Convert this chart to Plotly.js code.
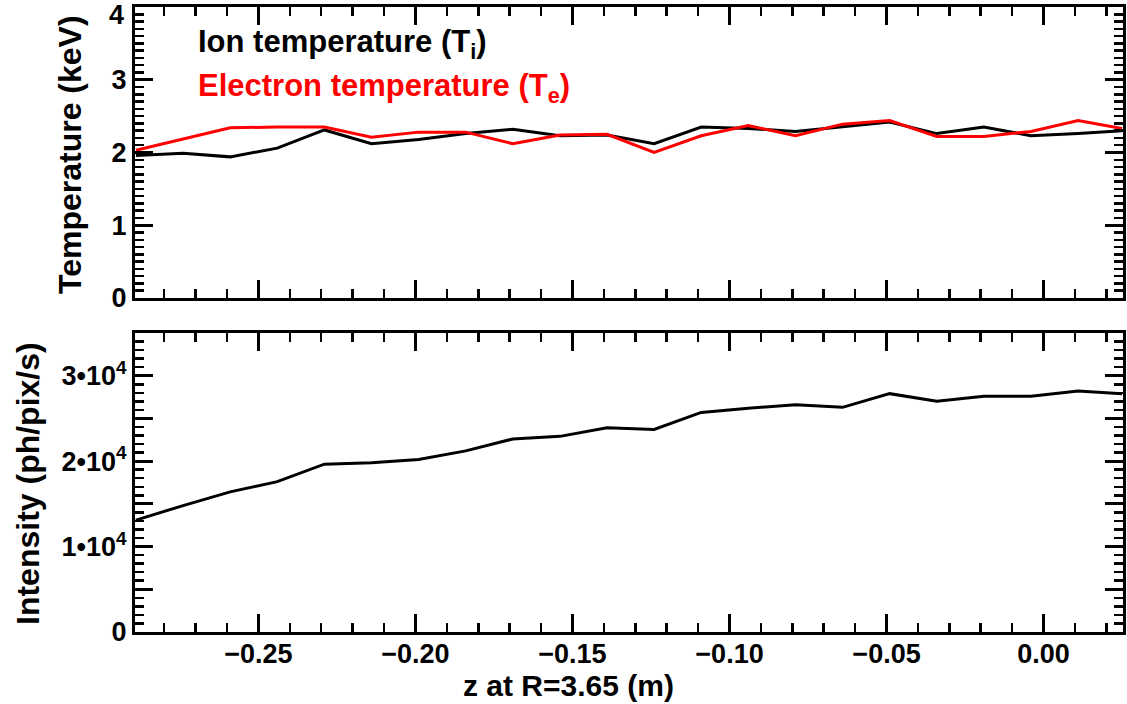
<!DOCTYPE html>
<html>
<head>
<meta charset="utf-8">
<script src="https://cdn.plot.ly/plotly-3.0.1.min.js"></script>
<style>html,body{margin:0;padding:0;background:#fff;}#chart{width:1127px;height:704px;}</style>
</head>
<body>
<div id="chart"></div>
<script>
// z positions (m) at R=3.65
const z = [-0.289, -0.274, -0.259, -0.244, -0.229, -0.214, -0.199, -0.184, -0.169, -0.154, -0.139,
           -0.124, -0.109, -0.094, -0.079, -0.064, -0.049, -0.034, -0.019, -0.004, 0.011, 0.025];
// Ion temperature (keV)
const ionTemp = [1.96, 1.99, 1.94, 2.06, 2.31, 2.12, 2.18, 2.26, 2.32, 2.23, 2.24,
                 2.12, 2.35, 2.33, 2.29, 2.36, 2.42, 2.26, 2.35, 2.23, 2.26, 2.30];
// Electron temperature (keV)
const elecTemp = [2.03, 2.18, 2.34, 2.35, 2.35, 2.21, 2.28, 2.28, 2.12, 2.24, 2.25,
                  2.00, 2.23, 2.37, 2.23, 2.39, 2.44, 2.22, 2.22, 2.29, 2.44, 2.33];
// Intensity (ph/pix/s)
const intensity = [13100, 14800, 16400, 17600, 19650, 19800, 20200, 21200, 22600, 22900, 23900,
                   23700, 25700, 26200, 26600, 26300, 27900, 27000, 27600, 27600, 28200, 27900];

const intTickVals = [0, 5000, 10000, 15000, 20000, 25000, 30000, 35000];
const intTickText = ['0', '', '1•10<sup>4</sup>', '', '2•10<sup>4</sup>', '', '3•10<sup>4</sup>', ''];
const tempTickVals = [0, 1, 2, 3, 4];
const tempTickText = ['0', '1', '2', '3', '4'];

const ionLabel = 'Ion temperature (T<sub>i</sub>)';
const elecLabel = 'Electron temperature (T<sub>e</sub>)';
const xTitle = 'z at R=3.65 (m)';
const tempTitle = 'Temperature (keV)';
const intTitle = 'Intensity (ph/pix/s)';

const FONT = 'Liberation Sans, Arial, Helvetica, sans-serif';
const xrange = [-0.2893, 0.0253];
const TICKSIZE = 27, TITLESIZE = 31, XTITLESIZE = 30, YTITLESIZE = 32;

const traces = [
  {x: z, y: ionTemp, xaxis: 'x2', yaxis: 'y2', mode: 'lines', line: {color: '#000', width: 3}, showlegend: false},
  {x: z, y: elecTemp, xaxis: 'x2', yaxis: 'y2', mode: 'lines', line: {color: '#ff0000', width: 3}, showlegend: false},
  {x: z, y: intensity, xaxis: 'x', yaxis: 'y', mode: 'lines', line: {color: '#000', width: 3}, showlegend: false}
];

const common = {
  showline: true, linewidth: 3, linecolor: '#000', mirror: 'allticks',
  ticks: 'inside', ticklen: 18, tickwidth: 3, tickcolor: '#000',
  showgrid: false, zeroline: false,
  tickfont: {family: FONT, size: TICKSIZE, color: '#000', weight: 700}
};
const xTitleFont = {family: FONT, size: XTITLESIZE, color: '#000', weight: 700};
const yTitleFont = {family: FONT, size: YTITLESIZE, color: '#000', weight: 700};

// the top label of the temperature axis sits just below the frame corner, as in the source
const tempLabelVals = tempTickVals.slice(0, -1);
const tempLabelText = tempTickText.slice(0, -1);

const layout = {
  width: 1127, height: 704,
  margin: {l: 135, r: 4, t: 7, b: 72},
  paper_bgcolor: '#fff', plot_bgcolor: '#fff',
  font: {family: FONT, size: TICKSIZE, color: '#000', weight: 700},
  xaxis: Object.assign({}, common, {
    anchor: 'y', range: xrange, tickmode: 'linear', tick0: 0, dtick: 0.05, tickformat: '.2f',
    ticklabelstandoff: -4,
    minor: {tickmode: 'linear', tick0: 0, dtick: 0.01, ticks: 'inside', ticklen: 9, tickwidth: 2.5, tickcolor: '#000'}
  }),
  xaxis2: Object.assign({}, common, {
    anchor: 'y2', range: xrange, tickmode: 'linear', tick0: 0, dtick: 0.05, showticklabels: false,
    minor: {tickmode: 'linear', tick0: 0, dtick: 0.01, ticks: 'inside', ticklen: 9, tickwidth: 2.5, tickcolor: '#000'}
  }),
  yaxis: Object.assign({}, common, {
    anchor: 'x', domain: [0, 0.4784], range: [0, 35000],
    tickmode: 'array', tickvals: intTickVals, ticktext: intTickText,
    minor: {tickmode: 'linear', tick0: 0, dtick: 1000, ticks: 'inside', ticklen: 9, tickwidth: 2.5, tickcolor: '#000'}
  }),
  yaxis2: Object.assign({}, common, {
    anchor: 'x2', domain: [0.5344, 1], range: [0, 4],
    tickmode: 'array', tickvals: tempLabelVals, ticktext: tempLabelText,
    minor: {tickmode: 'linear', tick0: 0, dtick: 0.1, ticks: 'inside', ticklen: 9, tickwidth: 2.5, tickcolor: '#000'}
  }),
  annotations: [
    {text: tempTickText[tempTickText.length - 1], xref: 'paper', yref: 'y2', x: -0.0095,
     y: tempTickVals[tempTickVals.length - 1], yshift: -8, xanchor: 'right', yanchor: 'middle',
     showarrow: false, font: {family: FONT, size: TICKSIZE, color: '#000', weight: 700}},
    {text: ionLabel, xref: 'paper', yref: 'paper', x: 0.062, y: 0.9408, xanchor: 'left', yanchor: 'middle',
     showarrow: false, font: {family: FONT, size: TITLESIZE, color: '#000', weight: 700}},
    {text: elecLabel, xref: 'paper', yref: 'paper', x: 0.062, y: 0.8706, xanchor: 'left', yanchor: 'middle',
     showarrow: false, font: {family: FONT, size: TITLESIZE, color: '#ff0000', weight: 700}},
    {text: xTitle, xref: 'paper', yref: 'paper', x: 0.4383, y: -0.0848, xanchor: 'center', yanchor: 'middle',
     borderpad: 0, showarrow: false, font: xTitleFont},
    {text: tempTitle, xref: 'paper', yref: 'paper', x: -0.0658, y: 0.7648, xanchor: 'center', yanchor: 'middle',
     textangle: -90, showarrow: false, font: yTitleFont},
    {text: intTitle, xref: 'paper', yref: 'paper', x: -0.1083, y: 0.2384, xanchor: 'center', yanchor: 'middle',
     textangle: -90, showarrow: false, font: yTitleFont}
  ]
};

Plotly.newPlot('chart', traces, layout, {displayModeBar: false, staticPlot: true});
</script>
</body>
</html>
